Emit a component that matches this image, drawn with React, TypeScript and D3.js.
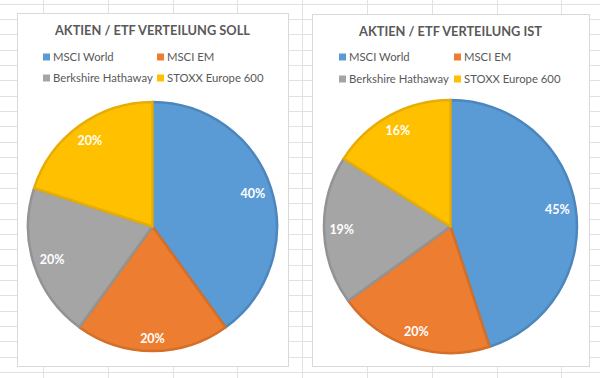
import React from "react";
import * as d3 from "d3";

const categories = ["MSCI World", "MSCI EM", "Berkshire Hathaway", "STOXX Europe 600"];
const sollValues = [40, 20, 20, 20];
const istValues = [45, 20, 19, 16];
const chartTitles = ["AKTIEN / ETF VERTEILUNG SOLL", "AKTIEN / ETF VERTEILUNG IST"];

const FILLS = ["#5B9BD5", "#ED7D31", "#A5A5A5", "#FFC000"];
const STROKES = ["#4C86BD", "#D46F28", "#939393", "#E5AD06"];
const FONT = "Lato, 'Open Sans', sans-serif";
const TEXT = "#595959";

const W = 600;
const H = 378;

type Box = { x0: number; y0: number; x1: number; y1: number; cx: number; cy: number; r: number; legX: number[]; legY: number[] };

const boxes: Box[] = [
  { x0: 17, y0: 13, x1: 288, y1: 366, cx: 152.5, cy: 226.5, r: 124.5, legX: [43, 157], legY: [57, 78] },
  { x0: 312, y0: 14, x1: 589, y1: 366, cx: 450.5, cy: 226.5, r: 126.5, legX: [339, 454], legY: [57, 79] },
];

function PieChart({ box, values, title }: { box: Box; values: number[]; title: string }) {
  const total = d3.sum(values);
  const pie = d3.pie<number>().sort(null).value((d) => d).startAngle(0).endAngle(2 * Math.PI);
  const arcs = pie(values);
  const arc = d3.arc<d3.PieArcDatum<number>>().innerRadius(0).outerRadius(box.r);
  const fmt = d3.format(".0%");
  const lw = 21;
  const lh = 12;
  const pad = 7;
  return (
    <g>
      <rect x={box.x0 + 0.5} y={box.y0 + 0.5} width={box.x1 - box.x0} height={box.y1 - box.y0} fill="#ffffff" stroke="#d9d9d9" strokeWidth={1} />
      <text
        x={(box.x0 + box.x1) / 2}
        y={box.y0 + 22}
        textAnchor="middle"
        fontFamily={FONT}
        fontWeight={700}
        fontSize={12.8}
        letterSpacing={0}
        fill={TEXT}
      >
        {title}
      </text>
      {categories.map((c, i) => {
        const lx = box.legX[i % 2];
        const ly = box.legY[Math.floor(i / 2)];
        return (
          <g key={c}>
            <rect x={lx} y={ly - 3.5} width={7} height={7} fill={FILLS[i]} />
            <text x={lx + 10} y={ly + 4} fontFamily={FONT} fontSize={11.3} fill={TEXT}>
              {c}
            </text>
          </g>
        );
      })}
      <g transform={`translate(${box.cx},${box.cy})`}>
        {arcs.map((a, i) => (
          <path key={i} d={arc(a) || ""} fill={FILLS[i]} stroke={STROKES[i]} strokeWidth={2.5} strokeLinejoin="round" />
        ))}
        {arcs.map((a, i) => {
          const mid = (a.startAngle + a.endAngle) / 2;
          const s = Math.sin(mid);
          const c = -Math.cos(mid);
          const ext = Math.abs(s) * lw / 2 + Math.abs(c) * lh / 2;
          const d = box.r - pad - ext;
          return (
            <text
              key={"l" + i}
              x={s * d}
              y={c * d}
              dy="0.36em"
              textAnchor="middle"
              fontFamily={FONT}
              fontWeight={700}
              fontSize={12.5}
              fill="#ffffff"
            >
              {fmt(a.data / total)}
            </text>
          );
        })}
      </g>
    </g>
  );
}

export default function App() {
  const hLines = d3.range(0, 25).map((k) => 3.65 + 15.35 * k);
  const vLines = d3.range(0, 9).map((k) => 43 + 64.8 * k);
  return (
    <svg width={W} height={H} style={{ position: "absolute", left: 0, top: 0, background: "#ffffff" }}>
      {hLines.map((y, i) => (
        <line key={"h" + i} x1={0} x2={W} y1={Math.round(y) + 0.5} y2={Math.round(y) + 0.5} stroke="#e1e1e1" strokeWidth={1} />
      ))}
      {vLines.map((x, i) => (
        <line key={"v" + i} x1={Math.round(x) + 0.5} x2={Math.round(x) + 0.5} y1={0} y2={H} stroke="#e1e1e1" strokeWidth={1} />
      ))}
      <PieChart box={boxes[0]} values={sollValues} title={chartTitles[0]} />
      <PieChart box={boxes[1]} values={istValues} title={chartTitles[1]} />
    </svg>
  );
}
